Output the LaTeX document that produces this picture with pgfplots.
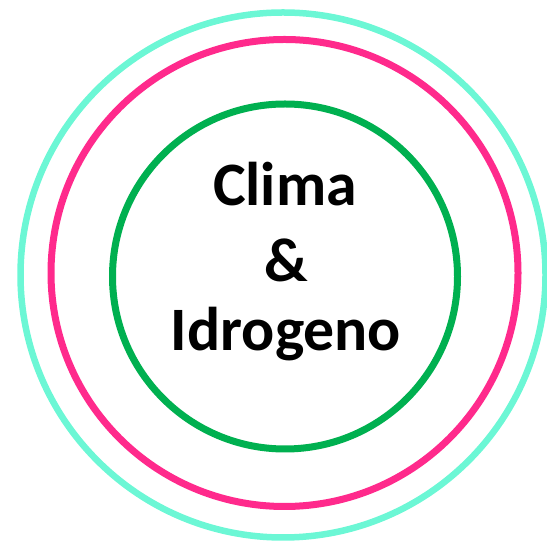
\documentclass[border=0pt]{standalone}
\usepackage{pgfplots}
\pgfplotsset{compat=1.18}
\usepackage{fontspec}
\setmainfont{Carlito}
\definecolor{ringcyan}{HTML}{6CF7D5}
\definecolor{ringpink}{HTML}{FF2A8C}
\definecolor{ringgreen}{HTML}{00B050}
\begin{document}
\begin{tikzpicture}
\begin{axis}[
  name=ax,
  width=547bp, height=546bp, scale only axis,
  xmin=0, xmax=547, ymin=0, ymax=546,
  hide axis,
]
% outer cyan ring
\addplot[only marks, mark=o, mark size=262.5bp, mark options={draw=ringcyan, line width=6.5bp}] coordinates {(283,271)};
% pink ring
\addplot[only marks, mark=o, mark size=233.5bp, mark options={draw=ringpink, line width=7bp}] coordinates {(284.5,273)};
% green ring
\addplot[only marks, mark=o, mark size=172.5bp, mark options={draw=ringgreen, line width=7bp}] coordinates {(285,269.5)};
\node[anchor=base, font=\fontsize{62}{70}\selectfont\bfseries] at (axis cs:285,340) {Clima};
\node[anchor=base, font=\fontsize{62}{70}\selectfont\bfseries] at (axis cs:286,264) {\&};
\node[anchor=base, font=\fontsize{62}{70}\selectfont\bfseries] at (axis cs:286,195) {Idrogeno};
\end{axis}
\pgfresetboundingbox
\useasboundingbox (ax.south west) rectangle (ax.north east);
\end{tikzpicture}
\end{document}
